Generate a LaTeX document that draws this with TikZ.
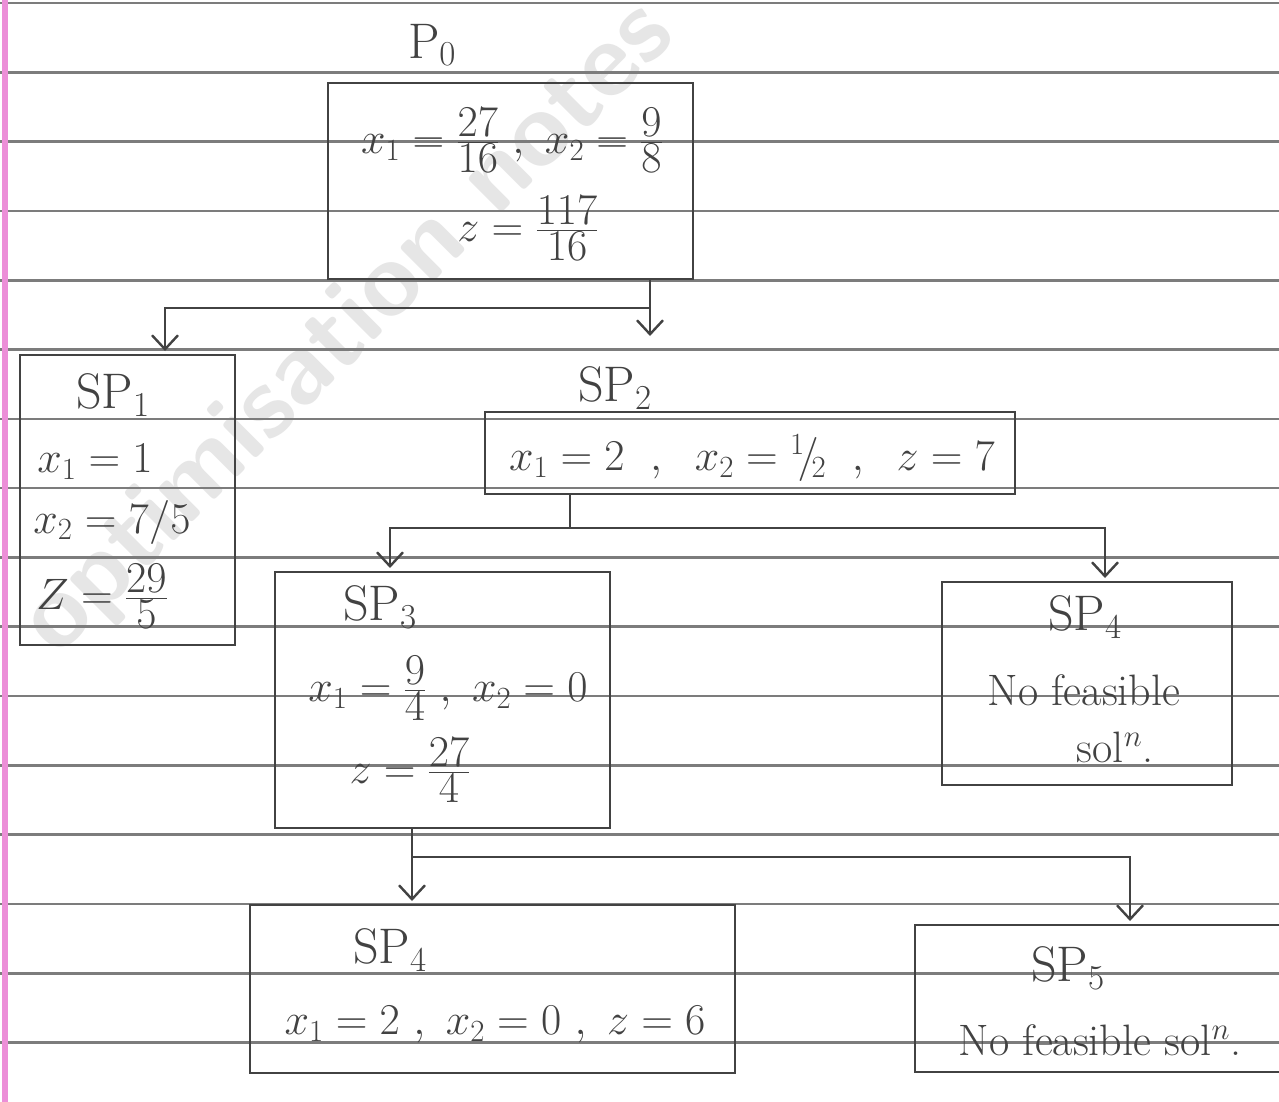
\RequirePackage{fix-cm}
\documentclass[tikz,border=0pt]{standalone}
\usepackage{amsmath}
\usetikzlibrary{arrows.meta,calc}
\newcommand{\hfr}[2]{\genfrac{}{}{}{1}{\textstyle #1}{\textstyle #2}}
\definecolor{ink}{HTML}{424242}
\definecolor{ruleline}{HTML}{7C7C7C}
\definecolor{marginpink}{HTML}{EC8FD8}
\definecolor{wmgray}{HTML}{E6E6E6}
\begin{document}
\begin{tikzpicture}[x=1pt,y=-1pt,
  box/.style={draw=ink, line width=2.6pt, inner sep=0pt, outer sep=0pt},
  txt/.style={text=ink, inner sep=0pt, font=\fontsize{44}{50}\selectfont},
  big/.style={text=ink, inner sep=0pt, font=\fontsize{50}{56}\selectfont},
  conn/.style={draw=ink, line width=2.4pt},
  arr/.style={conn, -{Straight Barb[length=14pt,width=26pt,line width=2.4pt]}, shorten >=4pt},
  wm/.style={text=wmgray, font=\sffamily\bfseries\fontsize{104}{104}\selectfont, rotate=45, inner sep=0pt}
]
% page
\fill[white] (0,0) rectangle (1279,1102);
\useasboundingbox (0,0) rectangle (1279,1102);
% watermark
\node[wm] (wmark) at (350,330) {optimisation notes};
% ruled lines
\foreach \k in {0,...,15}{
  \draw[ruleline, line width=2.6pt] (0,{3+69.3*\k}) -- (1279,{3+69.3*\k});
}
% margin
\draw[marginpink, line width=6pt] (5,0) -- (5,1102);

% ---------- P0 ----------
\node[big] (p0lbl) at (432,45) {P$_0$};
\node[box, minimum width=365pt, minimum height=196pt] (p0) at (510.5,181) {};
\node[txt] (p0l1) at (512,140) {$x_1 = \hfr{27}{16}\ ,\ x_2 = \hfr{9}{8}$};
\node[txt] (p0l2) at (528,228) {$z = \hfr{117}{16}$};

% ---------- SP1 ----------
\node[box, minimum width=215pt, minimum height=290pt] (sp1) at (127.5,500) {};
\node[big] (sp1lbl) at (113,395) {SP$_1$};
\node[txt] (sp1a) at (95,462) {$x_1 = 1$};
\node[txt] (sp1b) at (112,522) {$x_2 = 7/5$};
\node[txt] (sp1c) at (102,596) {$Z = \hfr{29}{5}$};

% ---------- SP2 ----------
\node[big] (sp2lbl) at (615,388) {SP$_2$};
\node[box, minimum width=530pt, minimum height=82pt] (sp2) at (750,453) {};
\node[txt] (sp2a) at (752,458) {$x_1 = 2\;\ ,\;\ x_2 = {}^1\!/\!_2\;\ ,\;\ z = 7$};

% ---------- SP3 ----------
\node[box, minimum width=335pt, minimum height=256pt] (sp3) at (442.5,700) {};
\node[big] (sp3lbl) at (380,607) {SP$_3$};
\node[txt] (sp3a) at (448,688) {$x_1 = \hfr{9}{4}\ ,\ x_2 = 0$};
\node[txt] (sp3b) at (410,770) {$z = \hfr{27}{4}$};

% ---------- SP4 (right) ----------
\node[box, minimum width=290pt, minimum height=203pt] (sp4) at (1087,683.5) {};
\node[big] (sp4lbl) at (1085,617) {SP$_4$};
\node[txt] (sp4a) at (1084,690) {No feasible};
\node[txt] (sp4b) at (1115,747) {sol$^{n}$.};

% ---------- SP4 (bottom) ----------
\node[box, minimum width=485pt, minimum height=168pt] (sp4b) at (492.5,989) {};
\node[big] (sp4blbl) at (390,950) {SP$_4$};
\node[txt] (sp4ba) at (495,1025) {$x_1 = 2\ ,\ x_2 = 0\ ,\ z = 6$};

% ---------- SP5 ----------
\node[box, minimum width=380pt, minimum height=147pt] (sp5) at (1105,998.5) {};
\node[big] (sp5lbl) at (1068,968) {SP$_5$};
\node[txt] (sp5a) at (1100,1040) {No feasible sol$^{n}$.};

% ---------- connectors ----------
\coordinate (j0) at (650,308);
\coordinate (j1) at (165,308);
\coordinate (a2) at (650,340);
\draw[conn] (p0.south -| j0) -- (j0);
\draw[arr] (j0) -- (j1) -- (j1 |- sp1.north);
\draw[arr] (j0) -- (a2);

\coordinate (j2) at (570,528);
\coordinate (j2l) at (390,528);
\coordinate (j2r) at (1105,528);
\draw[conn] (sp2.south -| j2) -- (j2);
\draw[arr] (j2) -- (j2l) -- (j2l |- sp3.north);
\draw[arr] (j2) -- (j2r) -- (j2r |- sp4.north);

\coordinate (j3) at (412,857);
\coordinate (j3r) at (1130,857);
\draw[arr] (sp3.south -| j3) -- (j3 |- sp4b.north);
\draw[arr] (j3) -- (j3r) -- (j3r |- sp5.north);
\end{tikzpicture}
\end{document}
